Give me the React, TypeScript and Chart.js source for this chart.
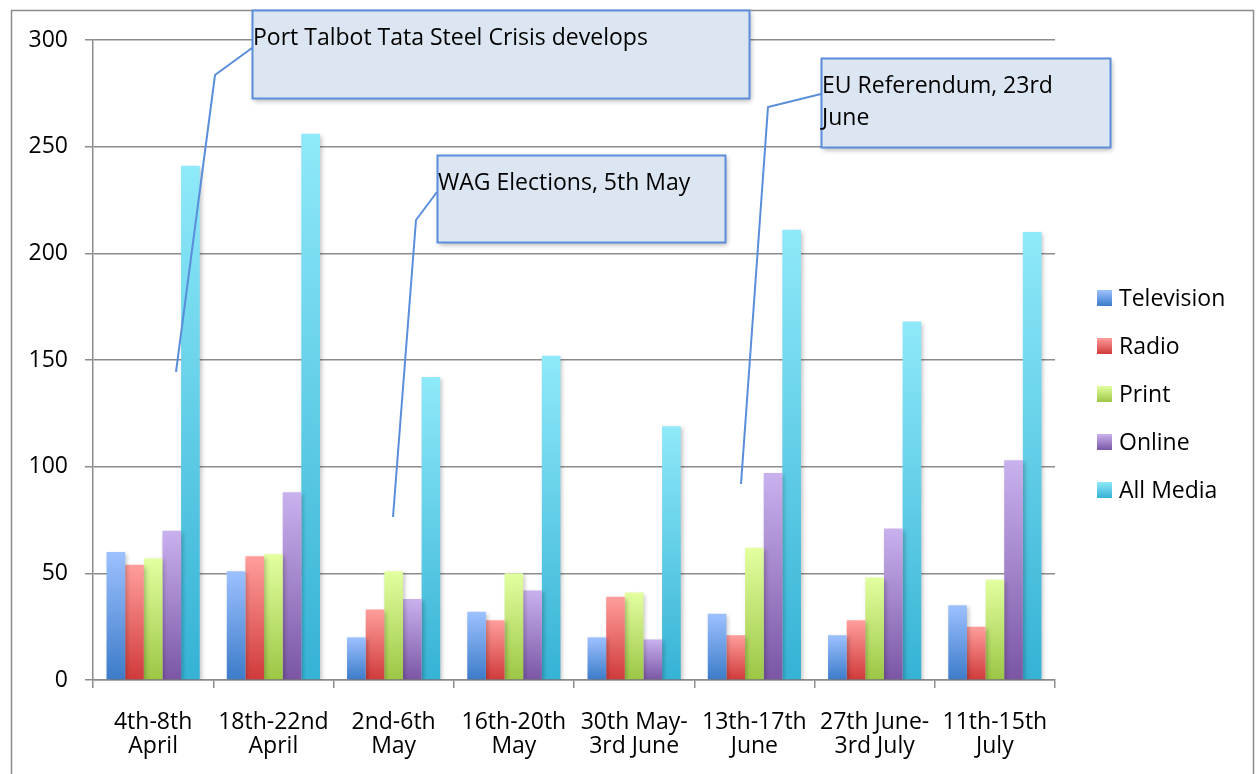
import React, { useEffect, useRef } from "react";
import { Chart, registerables } from "chart.js";

Chart.register(...registerables);

const categories: string[][] = [
  ["4th-8th", "April"],
  ["18th-22nd", "April"],
  ["2nd-6th", "May"],
  ["16th-20th", "May"],
  ["30th May-", "3rd June"],
  ["13th-17th", "June"],
  ["27th June-", "3rd July"],
  ["11th-15th", "July"],
];

const seriesNames = ["Television", "Radio", "Print", "Online", "All Media"];
const television = [60, 51, 20, 32, 20, 31, 21, 35];
const radio = [54, 58, 33, 28, 39, 21, 28, 25];
const print = [57, 59, 51, 50, 41, 62, 48, 47];
const online = [70, 88, 38, 42, 19, 97, 71, 103];
const allMedia = [241, 256, 142, 152, 119, 211, 168, 210];

const yTicks = [0, 50, 100, 150, 200, 250, 300];

const callouts = [
  { lines: ["Port Talbot Tata Steel Crisis develops"], box: [252, 10, 497, 88], pointer: [[252, 48], [215, 75], [176, 372]] },
  { lines: ["WAG Elections, 5th May"], box: [437, 155, 288, 87], pointer: [[437, 192], [416, 220], [393, 517]] },
  { lines: ["EU Referendum, 23rd", "June"], box: [821, 58, 289, 89], pointer: [[821, 94], [768, 107], [741, 484]] },
];

const gradients: [string, string][] = [
  ["#9dc1ff", "#3c7bc9"],
  ["#ff9e9c", "#d03a3a"],
  ["#e3ffa0", "#9cc645"],
  ["#c9b1ee", "#7a56a5"],
  ["#8fe9f9", "#35b2d5"],
];

const FONT = "'Open Sans', 'DejaVu Sans', sans-serif";
const FS = 23;

function makeBg(idx: number) {
  return (ctx: any) => {
    const [top, bot] = gradients[idx];
    const chart = ctx.chart;
    const y = chart.scales && chart.scales.y;
    if (ctx.type !== "data" || !y) return top;
    const yTop = y.getPixelForValue(ctx.raw);
    const yBot = y.getPixelForValue(0);
    if (!isFinite(yTop) || !isFinite(yBot) || yTop === yBot) return top;
    const g = chart.ctx.createLinearGradient(0, yTop, 0, yBot);
    g.addColorStop(0, top);
    g.addColorStop(1, bot);
    return g;
  };
}

const framePlugin = {
  id: "frame",
  beforeDraw(chart: any) {
    const c = chart.ctx;
    c.save();
    c.fillStyle = "#ffffff";
    c.fillRect(0, 0, chart.width, chart.height);
    c.strokeStyle = "#8c8c8c";
    c.lineWidth = 1.5;
    c.strokeRect(11.5, 10.5, 1242, 800);
    c.restore();
  },
  beforeDatasetsDraw(chart: any) {
    const c = chart.ctx;
    c.save();
    c.shadowColor = "rgba(0,0,0,0.22)";
    c.shadowBlur = 4;
    c.shadowOffsetX = 2;
    c.shadowOffsetY = 2;
  },
  afterDatasetsDraw(chart: any) {
    chart.ctx.restore();
  },
  afterDraw(chart: any) {
    const c = chart.ctx;
    // legend
    c.save();
    c.font = `${FS}px ${FONT}`;
    c.textBaseline = "middle";
    c.textAlign = "left";
    chart.data.datasets.forEach((ds: any, i: number) => {
      const cy = 298 + i * 48;
      const g = c.createLinearGradient(0, cy - 8, 0, cy + 8);
      g.addColorStop(0, gradients[i][0]);
      g.addColorStop(1, gradients[i][1]);
      c.fillStyle = g;
      c.fillRect(1097, cy - 8, 15, 16);
      c.fillStyle = "#000000";
      c.fillText(ds.label, 1119, cy + 1);
    });
    c.restore();
    // callouts
    callouts.forEach((co) => {
      const [x, y, w, h] = co.box;
      c.save();
      c.strokeStyle = "#5a8edb";
      c.lineWidth = 2;
      c.beginPath();
      co.pointer.forEach((p, k) => (k === 0 ? c.moveTo(p[0], p[1]) : c.lineTo(p[0], p[1])));
      c.stroke();
      c.shadowColor = "rgba(0,0,0,0.3)";
      c.shadowBlur = 5;
      c.shadowOffsetX = 2;
      c.shadowOffsetY = 3;
      c.fillStyle = "#dce6f2";
      c.fillRect(x, y, w, h);
      c.shadowColor = "transparent";
      c.strokeRect(x + 0.5, y + 0.5, w, h);
      c.fillStyle = "#000000";
      c.font = `${FS}px ${FONT}`;
      c.textBaseline = "middle";
      c.textAlign = "left";
      co.lines.forEach((ln, k) => c.fillText(ln, x + 1, y + 28 + k * 32));
      c.restore();
    });
  },
};

export default function App() {
  const ref = useRef<HTMLCanvasElement | null>(null);
  useEffect(() => {
    if (!ref.current) return;
    const values = [television, radio, print, online, allMedia];
    const chart = new Chart(ref.current, {
      type: "bar",
      data: {
        labels: categories,
        datasets: seriesNames.map((name, i) => ({
          label: name,
          data: values[i],
          backgroundColor: makeBg(i),
          borderWidth: 0,
          barPercentage: 1,
          categoryPercentage: 0.775,
        })),
      },
      options: {
        animation: false,
        responsive: false,
        devicePixelRatio: 1,
        layout: { padding: { left: 0, top: 40, right: 203, bottom: 0 } },
        plugins: { legend: { display: false }, tooltip: { enabled: false } },
        scales: {
          x: {
            grid: { drawOnChartArea: false, drawTicks: true, tickLength: 8, color: "#8c8c8c", lineWidth: 1.5, offset: true },
            border: { color: "#8c8c8c", width: 1.5 },
            ticks: { color: "#000000", font: { family: FONT, size: FS, lineHeight: 24 / FS }, padding: 22, maxRotation: 0, autoSkip: false },
            afterFit: (s: any) => { s.height = 94; },
          },
          y: {
            min: 0,
            max: 300,
            afterBuildTicks: (s: any) => { s.ticks = yTicks.map((v) => ({ value: v })); },
            grid: { color: "#8c8c8c", lineWidth: 1.5, tickLength: 8 },
            border: { color: "#8c8c8c", width: 1.5 },
            ticks: { color: "#000000", font: { family: FONT, size: FS }, padding: 17 },
            afterFit: (s: any) => { s.width = 93; },
          },
        },
      },
      plugins: [framePlugin],
    });
    return () => chart.destroy();
  }, []);
  return (
    <div style={{ position: "absolute", left: 0, top: 0, width: 1258, height: 774 }}>
      <canvas ref={ref} width={1258} height={774} style={{ width: 1258, height: 774 }} />
    </div>
  );
}
